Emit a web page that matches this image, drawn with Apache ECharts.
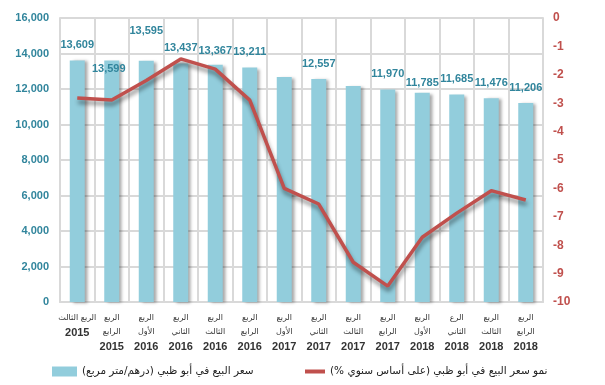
<!DOCTYPE html>
<html>
<head>
<meta charset="utf-8">
<script src="https://cdn.jsdelivr.net/npm/echarts@6/dist/echarts.min.js"></script>
<style>html,body{margin:0;padding:0;background:#fff}#c{width:605px;height:385px}</style>
</head>
<body>
<div id="c"></div>
<script>
var quarters = ['الربع الثالث', 'الربع\nالرابع', 'الربع\nالأول', 'الربع\nالثاني', 'الربع\nالثالث', 'الربع\nالرابع', 'الربع\nالأول', 'الربع\nالثاني', 'الربع\nالثالث', 'الربع\nالرابع', 'الربع\nالأول', 'الرع\nالثاني', 'الربع\nالثالث', 'الربع\nالرابع'];
var years = ['2015', '2015', '2016', '2016', '2016', '2016', '2017', '2017', '2017', '2017', '2018', '2018', '2018', '2018'];
var priceValues = [13609, 13599, 13595, 13437, 13367, 13211, 12680, 12557, 12170, 11970, 11785, 11685, 11476, 11206];
var growthValues = [-2.82, -2.89, -2.2, -1.44, -1.8, -2.89, -6.0, -6.55, -8.6, -9.44, -7.72, -6.87, -6.08, -6.41];
var leftTicks = [0, 2000, 4000, 6000, 8000, 10000, 12000, 14000, 16000];
var rightTicks = [-10, -9, -8, -7, -6, -5, -4, -3, -2, -1, 0];
var priceName = 'سعر البيع في أبو ظبي (درهم/متر مربع)';
var growthName = 'نمو سعر البيع في أبو ظبي (على أساس سنوي %)';

var hiddenLabels = {6: true, 8: true};
var labelOffsets = {1: [-3, 24], 2: [0, -14], 4: [0, 2], 10: [0, 6]};

var categories = quarters.map(function (q, i) { return q + '\n' + years[i]; });
var barData = priceValues.map(function (v, i) {
  var item = { value: v };
  if (hiddenLabels[i]) item.label = { show: false };
  else if (labelOffsets[i]) item.label = { offset: labelOffsets[i] };
  return item;
});

var numFont = 'Liberation Sans';
var chart = echarts.init(document.getElementById('c'), null, { renderer: 'canvas' });
chart.setOption({
  animation: false,
  backgroundColor: '#ffffff',
  grid: { left: 60, right: 62, top: 18, bottom: 83 },
  legend: [{
    left: 47, top: 361, itemWidth: 25, itemHeight: 10, itemGap: 5,
    icon: 'rect',
    data: [priceName],
    textStyle: { fontFamily: 'DejaVu Sans', fontSize: 10.5, color: '#222' }
  }, {
    left: 300, top: 361, itemWidth: 20, itemHeight: 4, itemGap: 3,
    icon: 'rect',
    data: [growthName],
    textStyle: { fontFamily: 'DejaVu Sans', fontSize: 10.5, color: '#222' }
  }],
  xAxis: {
    type: 'category',
    data: categories,
    boundaryGap: true,
    axisLine: { show: true, lineStyle: { color: '#d9d9d9', width: 2 } },
    axisTick: { show: false },
    splitLine: { show: true, lineStyle: { color: '#d9d9d9', width: 2 } },
    axisLabel: {
      interval: 0,
      margin: 9,
      verticalAlign: 'top',
      formatter: function (v, i) {
        return '{q|' + quarters[i].split('\n').join('}\n{q|') + '}\n{y|' + years[i] + '}';
      },
      rich: {
        q: { fontFamily: 'DejaVu Sans', fontSize: 8, color: '#333', lineHeight: 14 },
        y: { fontFamily: numFont, fontWeight: 'bold', fontSize: 11, color: '#333', lineHeight: 16 }
      }
    }
  },
  yAxis: [{
    type: 'value', min: 0, max: 16000, interval: 2000,
    axisLine: { show: true, lineStyle: { color: '#d9d9d9', width: 2 } },
    axisTick: { show: false },
    splitLine: { show: true, lineStyle: { color: '#d9d9d9', width: 2 } },
    axisLabel: {
      margin: 11,
      fontFamily: numFont, fontWeight: 'bold', fontSize: 11, color: '#31859c',
      formatter: function (v) { return v.toLocaleString('en-US'); }
    }
  }, {
    type: 'value', min: -10, max: 0, interval: 1,
    position: 'right',
    axisLine: { show: true, lineStyle: { color: '#d9d9d9', width: 2 } },
    axisTick: { show: false },
    splitLine: { show: false },
    axisLabel: {
      margin: 10,
      fontFamily: numFont, fontWeight: 'bold', fontSize: 12, color: '#c0504d'
    }
  }],
  series: [{
    name: priceName,
    type: 'bar',
    yAxisIndex: 0,
    barWidth: 15,
    data: barData,
    itemStyle: {
      color: '#92cddc',
      shadowColor: 'rgba(0,0,0,0.35)', shadowBlur: 3, shadowOffsetX: 3, shadowOffsetY: 1
    },
    label: {
      show: true, position: 'top', distance: 10,
      fontFamily: numFont, fontWeight: 'bold', fontSize: 11, color: '#31859c',
      formatter: function (p) { return p.value.toLocaleString('en-US'); }
    },
    z: 2
  }, {
    name: growthName,
    type: 'line',
    yAxisIndex: 1,
    data: growthValues,
    symbol: 'none',
    lineStyle: {
      color: '#c0504d', width: 3.5,
      shadowColor: 'rgba(0,0,0,0.45)', shadowBlur: 4, shadowOffsetX: 1, shadowOffsetY: 4
    },
    itemStyle: { color: '#c0504d' },
    z: 3
  }]
});
</script>
</body>
</html>
